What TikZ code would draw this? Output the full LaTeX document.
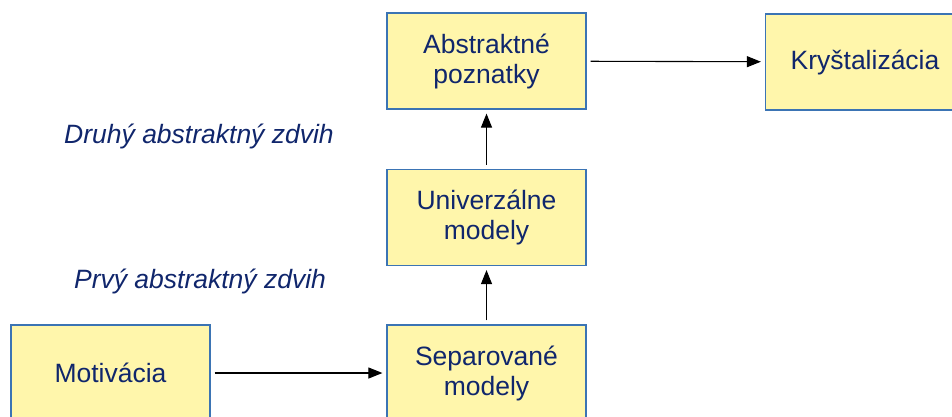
\documentclass[tikz,border=0pt]{standalone}
\usepackage{fontspec}
\setmainfont{Liberation Sans}
\usetikzlibrary{arrows.meta}
\definecolor{txtc}{HTML}{10266C}
\definecolor{boxfill}{HTML}{FFF6AB}
\definecolor{boxline}{HTML}{3B74B4}
\tikzset{
  blk/.style={draw=boxline, line width=1.2pt, fill=boxfill, minimum width=199pt, minimum height=96pt,
    text=txtc, align=center, inner sep=0pt, font=\fontsize{26.5}{30}\selectfont},
  lbl/.style={text=txtc, inner sep=0pt, font=\fontsize{26.5}{30}\selectfont\itshape},
  arr/.style={line width=1.1pt, -{Triangle[length=14pt,width=11pt]}, shorten <=4pt, shorten >=4pt}
}
\begin{document}
\begin{tikzpicture}[x=1pt,y=-1pt]
\clip (0,0) rectangle (952,416);
\useasboundingbox (0,0) rectangle (952,416);
\node[blk] (abs) at (486.5,61) {Abstraktné\\poznatky};
\node[blk] (kry) at (865,62) {Kryštalizácia};
\node[blk] (uni) at (486.5,217.5) {Univerzálne\\modely};
\node[blk] (sep) at (486.5,373) {Separované\\modely};
\node[blk] (mot) at (110.5,373) {Motivácia};
\node[lbl] (druhy) at (199,136) {Druhý abstraktný zdvih};
\node[lbl] (prvy) at (200,281) {Prvý abstraktný zdvih};
\draw[arr] (abs) -- (kry);
\draw[arr] (mot) -- (sep);
\draw[arr] (sep) -- (uni);
\draw[arr] (uni) -- (abs);
\end{tikzpicture}
\end{document}
